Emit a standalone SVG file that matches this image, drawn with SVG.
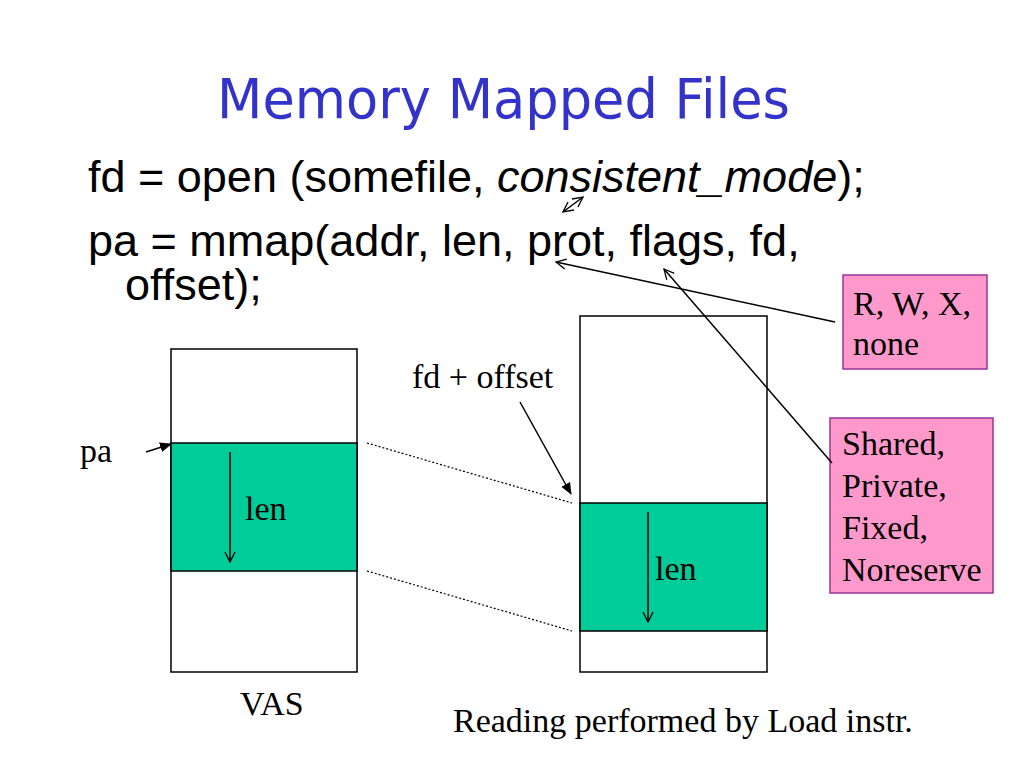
<svg xmlns="http://www.w3.org/2000/svg" width="1024" height="768" viewBox="0 0 1024 768">
<defs>
<style>
.code{font-family:"Liberation Sans",Arial,sans-serif;font-size:45px;fill:#000}
.serif{font-family:"Liberation Serif","Times New Roman",serif;font-size:34px;fill:#000}
.title{font-family:"Comic Sans MS","DejaVu Sans",sans-serif;font-size:55px;fill:#3333CC}
.box{fill:#fff;stroke:#000;stroke-width:1.5}
.green{fill:#00CC99;stroke:#000;stroke-width:1.5}
.pink{fill:#FF99CC;stroke:#993399;stroke-width:1.5}
.arr{stroke:#000;stroke-width:1.5;fill:none}
.dot{stroke:#000;stroke-width:1.2;stroke-dasharray:2 2;fill:none}
</style>
<marker id="open" viewBox="0 0 12 12" refX="11" refY="6" markerWidth="12" markerHeight="12" markerUnits="userSpaceOnUse" orient="auto-start-reverse">
<path d="M1,1 L11,6 L1,11" fill="none" stroke="#000" stroke-width="1.3"/>
</marker>
<marker id="solid" viewBox="0 0 12 12" refX="11" refY="6" markerWidth="12" markerHeight="12" markerUnits="userSpaceOnUse" orient="auto">
<path d="M0,1 L12,6 L0,11 Z" fill="#000"/>
</marker>
</defs>
<rect width="1024" height="768" fill="#fff"/>
<text class="title" x="217" y="118" textLength="573" lengthAdjust="spacingAndGlyphs">Memory Mapped Files</text>
<g id="code">
<text class="code" x="88" y="192">fd = open (somefile, <tspan font-style="italic">consistent_mode</tspan>);</text>
<text class="code" x="88" y="256">pa = mmap(addr, len, prot, flags, fd,</text>
<text class="code" x="125" y="300">offset);</text>
</g>
<g id="vas">
<rect class="box" x="171" y="349" width="186" height="323"/>
<rect class="green" x="171" y="443" width="186" height="128"/>
<text class="serif" x="245" y="520">len</text>
<text class="serif" x="80" y="462">pa</text>
<text class="serif" x="240" y="715">VAS</text>
</g>
<g id="file">
<rect class="box" x="580" y="316" width="187" height="356"/>
<rect class="green" x="580" y="503" width="187" height="128"/>
<text class="serif" x="655" y="580">len</text>
<text class="serif" x="412" y="388">fd + offset</text>
</g>
<g id="prot">
<rect class="pink" x="843" y="275" width="144" height="94"/>
<text class="serif" x="853" y="315">R, W, X,</text>
<text class="serif" x="853" y="355">none</text>
</g>
<g id="flags">
<rect class="pink" x="830" y="418" width="163" height="175"/>
<text class="serif" x="842" y="455">Shared,</text>
<text class="serif" x="842" y="497">Private,</text>
<text class="serif" x="842" y="539">Fixed,</text>
<text class="serif" x="842" y="581">Noreserve</text>
</g>
<g id="connectors">
<line class="arr" x1="563" y1="212" x2="583" y2="197" marker-start="url(#open)" marker-end="url(#open)"/>
<line class="arr" x1="835" y1="322" x2="556" y2="262" marker-end="url(#open)"/>
<line class="arr" x1="832" y1="463" x2="664" y2="269" marker-end="url(#open)"/>
<line class="arr" x1="230" y1="452" x2="230" y2="562" marker-end="url(#open)"/>
<line class="arr" x1="648" y1="512" x2="648" y2="622" marker-end="url(#open)"/>
<line class="arr" x1="146" y1="452" x2="171" y2="444" marker-end="url(#solid)"/>
<line class="arr" x1="520" y1="402" x2="571" y2="494" marker-end="url(#solid)"/>
<line class="dot" x1="367" y1="443" x2="572" y2="503"/>
<line class="dot" x1="367" y1="571" x2="572" y2="631"/>
</g>
<text class="serif" x="453" y="732">Reading performed by Load instr.</text>
</svg>
